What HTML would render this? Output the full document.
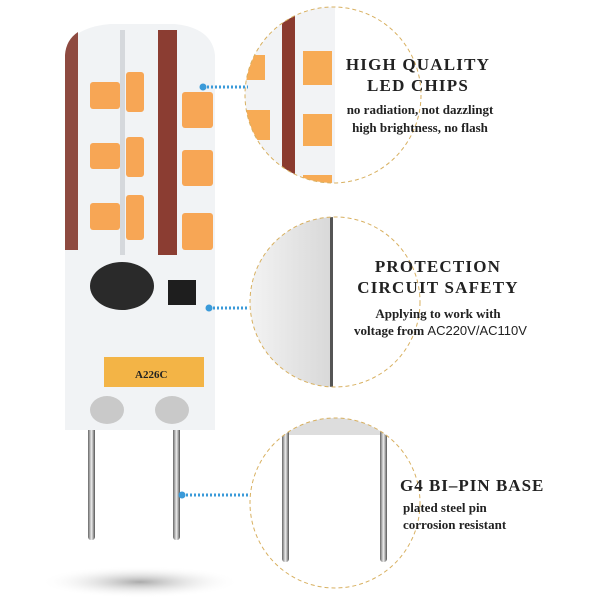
<!DOCTYPE html>
<html><head><meta charset="utf-8"><style>
html,body{margin:0;padding:0;background:#fff;}
svg{display:block}
text{font-family:"Liberation Serif",serif;font-weight:bold;fill:#222}
</style></head><body>
<svg width="610" height="610" viewBox="0 0 610 610" xmlns="http://www.w3.org/2000/svg">
<defs>
<clipPath id="c1"><circle cx="333" cy="95" r="88"/></clipPath>
<clipPath id="c2"><circle cx="335" cy="302" r="85"/></clipPath>
<clipPath id="c3"><circle cx="335" cy="503" r="85"/></clipPath>
<linearGradient id="pin" x1="0" x2="1"><stop offset="0" stop-color="#666"/><stop offset=".5" stop-color="#eee"/><stop offset="1" stop-color="#555"/></linearGradient>
<linearGradient id="gr" x1="0" x2="1"><stop offset="0" stop-color="#f6f6f6"/><stop offset="1" stop-color="#d8d8d8"/></linearGradient>
<radialGradient id="sh"><stop offset="0" stop-color="#aaa"/><stop offset="1" stop-color="#fff" stop-opacity="0"/></radialGradient>
</defs>
<ellipse cx="140" cy="582" rx="100" ry="16" fill="url(#sh)"/>
<!-- pins -->
<rect x="88" y="425" width="7" height="115" rx="3" fill="url(#pin)"/>
<rect x="173" y="425" width="7" height="115" rx="3" fill="url(#pin)"/>
<!-- bulb body -->
<path d="M65 55 Q68 28 110 24 L175 24 Q212 28 215 55 L215 430 L65 430 Z" fill="#f1f3f5"/>
<path d="M65 55 Q66 40 78 32 L78 250 L65 250 Z" fill="#8e4a40"/>
<rect x="158" y="30" width="19" height="225" fill="#8b3d32"/>
<rect x="120" y="30" width="5" height="225" fill="#d5d8dc"/>
<g fill="#f7a655">
<rect x="90" y="82" width="30" height="27" rx="3"/><rect x="90" y="143" width="30" height="26" rx="3"/><rect x="90" y="203" width="30" height="27" rx="3"/>
<rect x="126" y="72" width="18" height="40" rx="3"/><rect x="126" y="137" width="18" height="40" rx="3"/><rect x="126" y="195" width="18" height="45" rx="3"/>
<rect x="182" y="92" width="31" height="36" rx="3"/><rect x="182" y="150" width="31" height="36" rx="3"/><rect x="182" y="213" width="31" height="37" rx="3"/>
</g>
<ellipse cx="122" cy="286" rx="32" ry="24" fill="#2a2a2a"/>
<rect x="168" y="280" width="28" height="25" fill="#1e1e1e"/>
<rect x="104" y="357" width="62" height="30" fill="#aaa"/>
<rect x="104" y="357" width="100" height="30" fill="#f3b446"/>
<text x="135" y="378" font-size="11" font-family="Liberation Sans" fill="#a06020">A226C</text>
<ellipse cx="107" cy="410" rx="17" ry="14" fill="#c9c9c9"/><ellipse cx="172" cy="410" rx="17" ry="14" fill="#c9c9c9"/>
<!-- circle 1 content -->
<g clip-path="url(#c1)">
<rect x="240" y="0" width="95" height="190" fill="#f2f3f5"/>
<rect x="282" y="0" width="13" height="190" fill="#8b3a2e"/>
<rect x="303" y="51" width="29" height="34" fill="#f7ab55"/>
<rect x="303" y="114" width="29" height="32" fill="#f7ab55"/>
<rect x="303" y="175" width="29" height="20" fill="#f7ab55"/>
<rect x="245" y="55" width="20" height="25" fill="#f7ab55"/>
<rect x="245" y="110" width="25" height="30" fill="#f7ab55"/>
</g>
<circle cx="333" cy="95" r="88" fill="none" stroke="#d8b060" stroke-dasharray="4,3"/>
<!-- circle 2 -->
<g clip-path="url(#c2)"><rect x="240" y="210" width="92" height="180" fill="url(#gr)"/><rect x="330" y="210" width="3" height="180" fill="#555"/></g>
<circle cx="335" cy="302" r="85" fill="none" stroke="#d8b060" stroke-dasharray="4,3"/>
<!-- circle 3 -->
<g clip-path="url(#c3)"><rect x="270" y="417" width="130" height="18" fill="#ddd"/>
<rect x="282" y="430" width="7" height="132" rx="3" fill="url(#pin)"/><rect x="380" y="430" width="7" height="132" rx="3" fill="url(#pin)"/></g>
<circle cx="335" cy="503" r="85" fill="none" stroke="#d8b060" stroke-dasharray="4,3"/>
<!-- connectors -->
<g stroke="#3a9ad9" stroke-width="3" stroke-dasharray="2,2">
<line x1="203" y1="87" x2="248" y2="87"/><line x1="209" y1="308" x2="248" y2="308"/><line x1="182" y1="495" x2="248" y2="495"/>
</g>
<circle cx="203" cy="87" r="3.5" fill="#3a9ad9"/><circle cx="209" cy="308" r="3.5" fill="#3a9ad9"/><circle cx="182" cy="495" r="3.5" fill="#3a9ad9"/>
<!-- text -->
<g text-anchor="middle">
<text x="418" y="70" font-size="17" letter-spacing="1.2">HIGH QUALITY</text>
<text x="418" y="91" font-size="17" letter-spacing="1.2">LED CHIPS</text>
<text x="420" y="114" font-size="13">no radiation, not dazzlingt</text>
<text x="420" y="132" font-size="13">high brightness, no flash</text>
<text x="438" y="272" font-size="17" letter-spacing="1.2">PROTECTION</text>
<text x="438" y="293" font-size="17" letter-spacing="1.2">CIRCUIT SAFETY</text>
<text x="438" y="318" font-size="13">Applying to work with</text>
</g>
<text x="354" y="335" font-size="13">voltage from <tspan font-family="Liberation Sans" font-weight="normal">AC220V/AC110V</tspan></text>
<text x="400" y="491" font-size="17" letter-spacing="1">G4 BI–PIN BASE</text>
<text x="403" y="512" font-size="13">plated steel pin</text>
<text x="403" y="529" font-size="13">corrosion resistant</text>
</svg>
</body></html>
